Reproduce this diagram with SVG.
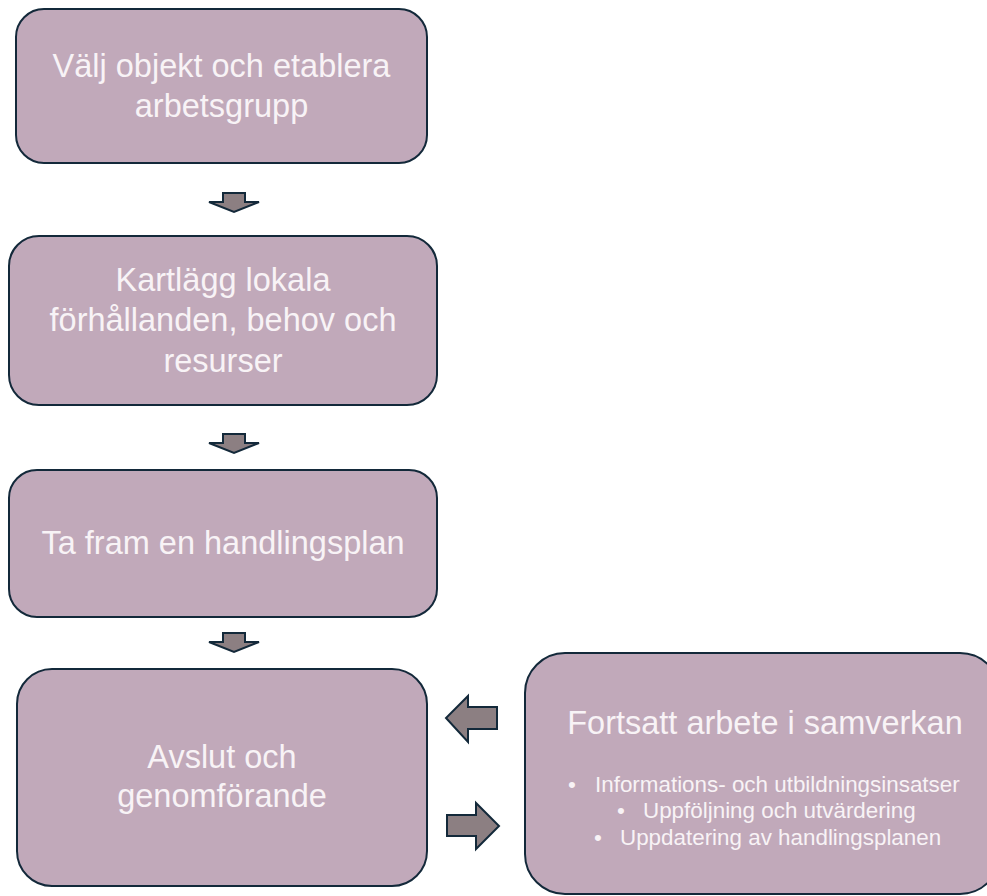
<svg xmlns="http://www.w3.org/2000/svg" width="987" height="896" viewBox="0 0 987 896">
  <style>
    .box { fill: #C1A9BA; stroke: #13293A; stroke-width: 2; }
    .arrow { fill: #8C7F82; stroke: #13293A; stroke-width: 2; stroke-linejoin: miter; }
    .lbl { font-family: "Liberation Sans", Arial, sans-serif; fill: #F8F3F6; font-size: 32.5px; text-anchor: middle; }
    .title { font-family: "Liberation Sans", Arial, sans-serif; fill: #F8F3F6; font-size: 32.5px; text-anchor: middle; }
    .bul { font-family: "Liberation Sans", Arial, sans-serif; fill: #F8F3F6; font-size: 22.4px; }
  </style>
  <rect width="987" height="896" fill="#FFFFFF"/>

  <g id="node-valj">
    <rect class="box" x="16" y="9" width="411" height="154" rx="28" ry="28"/>
    <text class="lbl" x="221.5" y="77">Välj objekt och etablera</text>
    <text class="lbl" x="221.5" y="117">arbetsgrupp</text>
  </g>

  <g id="node-kartlagg">
    <rect class="box" x="9" y="236" width="428" height="169" rx="30" ry="30"/>
    <text class="lbl" x="223" y="291">Kartlägg lokala</text>
    <text class="lbl" x="223" y="331">förhållanden, behov och</text>
    <text class="lbl" x="223" y="372">resurser</text>
  </g>

  <g id="node-handlingsplan">
    <rect class="box" x="9" y="470" width="428" height="147" rx="28" ry="28"/>
    <text class="lbl" x="223" y="554">Ta fram en handlingsplan</text>
  </g>

  <g id="node-avslut">
    <rect class="box" x="17" y="669" width="410" height="217" rx="35" ry="35"/>
    <text class="lbl" x="222" y="768">Avslut och</text>
    <text class="lbl" x="222" y="807">genomförande</text>
  </g>

  <g id="node-fortsatt">
    <rect class="box" x="525" y="653" width="475" height="241" rx="40" ry="40"/>
    <text class="title" x="765" y="734">Fortsatt arbete i samverkan</text>
    <text class="bul" x="568" y="792">•</text>
    <text class="bul" x="595" y="792">Informations- och utbildningsinsatser</text>
    <text class="bul" x="617" y="818">•</text>
    <text class="bul" x="643" y="818">Uppföljning och utvärdering</text>
    <text class="bul" x="594" y="845">•</text>
    <text class="bul" x="620" y="845">Uppdatering av handlingsplanen</text>
  </g>

  <g id="connectors">
    <polygon class="arrow" points="223,193 245,193 245,202 259,202 234,212 209,202 223,202"/>
    <polygon class="arrow" points="223,434 245,434 245,443 259,443 234,453 209,443 223,443"/>
    <polygon class="arrow" points="223,633 245,633 245,642 259,642 234,652 209,642 223,642"/>
    <polygon class="arrow" points="497,707 497,729 468,729 468,742 446,718 468,696 468,707"/>
    <polygon class="arrow" points="447,815 447,836 476,836 476,849 499,826 476,803 476,815"/>
  </g>
</svg>
